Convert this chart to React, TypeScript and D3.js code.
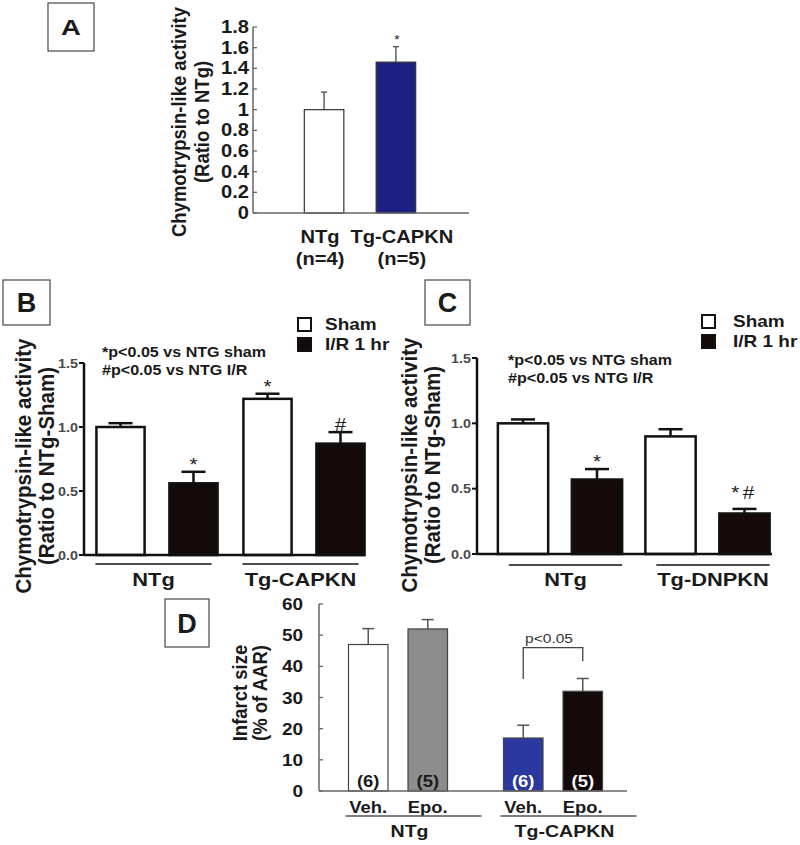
import React from "react";
import * as d3 from "d3";

// ---------- DATA ----------
// Panel A
const aCategories = ["NTg", "Tg-CAPKN"];
const aCounts = ["(n=4)", "(n=5)"];
const aValues = [1.0, 1.46];
const aErrors = [0.17, 0.15];
const aMarks = ["", "*"];
const aTicks = [0, 0.2, 0.4, 0.6, 0.8, 1.0, 1.2, 1.4, 1.6, 1.8];
const aTickLabels = ["0", "0.2", "0.4", "0.6", "0.8", "1", "1.2", "1.4", "1.6", "1.8"];
const aYLabel = ["Chymotrypsin-like activity", "(Ratio to NTg)"];

// Panels B & C shared
const seriesNames = ["Sham", "I/R 1 hr"];
const bcTicks = [0, 0.5, 1.0, 1.5];
const bcTickLabels = ["0.0", "0.5", "1.0", "1.5"];
const bcYLabel = ["Chymotrypsin-like activity", "(Ratio to NTg-Sham)"];
const bcNotes = ["*p<0.05 vs NTG sham", "#p<0.05 vs NTG I/R"];

// Panel B
const bGroups = ["NTg", "Tg-CAPKN"];
const bSham = [1.0, 1.22];
const bShamErr = [0.03, 0.04];
const bIR = [0.56, 0.87];
const bIRErr = [0.09, 0.09];
const bShamMarks = ["", "*"];
const bIRMarks = ["*", "#"];

// Panel C
const cGroups = ["NTg", "Tg-DNPKN"];
const cSham = [1.0, 0.9];
const cShamErr = [0.03, 0.055];
const cIR = [0.57, 0.31];
const cIRErr = [0.08, 0.035];
const cShamMarks = ["", ""];
const cIRMarks = ["*", "*#"];

// Panel D
const dGroups = ["NTg", "Tg-CAPKN"];
const dTreatments = ["Veh.", "Epo."];
const dVeh = [47, 17];
const dVehErr = [5.1, 4.1];
const dEpo = [52, 32];
const dEpoErr = [3, 4.1];
const dCountsVeh = ["(6)", "(6)"];
const dCountsEpo = ["(5)", "(5)"];
const dTicks = [0, 10, 20, 30, 40, 50, 60];
const dYLabel = ["Infarct size", "(% of AAR)"];
const dBracketText = "p<0.05";
const dBracketLevels = [35.9, 46, 41.6]; // left leg bottom, top, right leg bottom

// ---------- STYLE ----------
const FONT = "'Liberation Sans', Arial, Helvetica, sans-serif";
const SX = 1.15;
const INK = "#1a1a1a";
const BLACK_BAR = "#140a0a";
const A_COLORS = ["#ffffff", "#1c2082"];
const A_LABEL_SHIFT = [-4, 6];
const D_VEH_COLORS = ["#ffffff", "#2b38a0"];
const D_EPO_COLORS = ["#8c8c8c", BLACK_BAR];
const D_VEH_TEXT = [INK, "#ffffff"];
const D_EPO_TEXT = [INK, "#ffffff"];

type TP = {
  x: number; y: number; size: number; anchor?: string; weight?: string | number;
  fill?: string; sx?: number; children: React.ReactNode; ls?: number;
};
const T = ({ x, y, size, anchor = "middle", weight = "bold", fill = INK, sx = SX, children, ls }: TP) => (
  <text
    transform={`translate(${x},${y}) scale(${sx},1)`}
    textAnchor={anchor as any}
    fontFamily={FONT}
    fontSize={size}
    fontWeight={weight as any}
    fill={fill}
    letterSpacing={ls}
  >
    {children}
  </text>
);

const VT = ({ x, y, size, children }: { x: number; y: number; size: number; children: React.ReactNode }) => (
  <text
    transform={`translate(${x},${y}) rotate(-90) scale(1,1.12)`}
    textAnchor="middle"
    fontFamily={FONT}
    fontSize={size}
    fontWeight="bold"
    fill={INK}
  >
    {children}
  </text>
);

const Box = ({ x, y, w, h, label, size, sx = 1 }: any) => (
  <g>
    <rect x={x} y={y} width={w} height={h} fill="#fff" stroke="#555" strokeWidth={1.3} />
    <T x={x + w / 2} y={y + h / 2 + size * 0.36} size={size} sx={sx}>{label}</T>
  </g>
);

const ErrBar = ({ cx, y1, y2, cap, sw, color }: any) => (
  <g stroke={color} strokeWidth={sw} fill="none">
    <line x1={cx} x2={cx} y1={y1} y2={y2} />
    <line x1={cx - cap / 2} x2={cx + cap / 2} y1={y2} y2={y2} />
  </g>
);

// ---------- PANEL A ----------
function PanelA() {
  const y = d3.scaleLinear().domain([0, 1.8]).range([213, 27]);
  const x = d3.scaleBand<string>().domain(aCategories).range([272, 448]).padding(0.45);
  const ax = 253;
  return (
    <g>
      <Box x={48} y={3} w={46} h={48} label="A" size={22} sx={1.25} />
      <VT x={186} y={122} size={18.5}>{aYLabel[0]}</VT>
      <VT x={209} y={122} size={18.5}>{aYLabel[1]}</VT>
      {aCategories.map((c, i) => {
        const bx = x(c)!;
        const bw = x.bandwidth();
        const top = y(aValues[i]);
        const et = y(aValues[i] + aErrors[i]);
        return (
          <g key={c}>
            <ErrBar cx={bx + bw / 2} y1={top} y2={et} cap={6} sw={1.4} color="#555" />
            <rect x={bx} y={top} width={bw} height={y(0) - top} fill={A_COLORS[i]} stroke="#333" strokeWidth={1.2} />
            {aMarks[i] && <T x={bx + bw / 2 + 1} y={et - 3} size={12} weight="normal">{aMarks[i]}</T>}
            <T x={bx + bw / 2 + A_LABEL_SHIFT[i]} y={243} size={17.5}>{c}</T>
            <T x={bx + bw / 2 + A_LABEL_SHIFT[i]} y={265} size={17.5}>{aCounts[i]}</T>
          </g>
        );
      })}
      <line x1={ax} x2={ax} y1={y(0)} y2={y(1.8)} stroke="#666" strokeWidth={1.5} />
      <line x1={ax} x2={469} y1={y(0)} y2={y(0)} stroke="#666" strokeWidth={1.5} />
      {aTicks.map((t, i) => (
        <g key={t}>
          <line x1={ax} x2={ax + 4} y1={y(t)} y2={y(t)} stroke="#666" strokeWidth={1.3} />
          <T x={249} y={y(t) + 6} size={17.5} anchor="end">{aTickLabels[i]}</T>
        </g>
      ))}
    </g>
  );
}

// ---------- PANELS B & C ----------
function GroupedPanel(p: any) {
  const y = d3.scaleLinear().domain([0, 1.5]).range([p.y0, p.y15]);
  const x0 = d3.scaleBand<string>().domain(p.groups).range(p.x0range).padding(0);
  const x1 = d3.scaleBand<string>().domain(seriesNames).range([0, x0.bandwidth()])
    .paddingInner(p.pin).paddingOuter(p.pout);
  const series = [
    { name: seriesNames[0], vals: p.sham, errs: p.shamErr, marks: p.shamMarks, fill: "#ffffff" },
    { name: seriesNames[1], vals: p.ir, errs: p.irErr, marks: p.irMarks, fill: BLACK_BAR },
  ];
  const bw = x1.bandwidth();
  return (
    <g>
      <Box x={p.box[0]} y={p.box[1]} w={p.box[2]} h={p.box[3]} label={p.letter} size={27} />
      <VT x={p.titleX[0]} y={p.titleY} size={20.5}>{bcYLabel[0]}</VT>
      <VT x={p.titleX[1]} y={p.titleY} size={20.5}>{bcYLabel[1]}</VT>
      <T x={p.noteX} y={p.noteY[0]} size={14} anchor="start">{bcNotes[0]}</T>
      <T x={p.noteX} y={p.noteY[1]} size={14} anchor="start">{bcNotes[1]}</T>
      {seriesNames.map((s, i) => (
        <g key={s}>
          <rect x={p.legX} y={p.legY[i]} width={13} height={13} fill={series[i].fill} stroke="#111" strokeWidth={2} />
          <T x={p.legX + p.legTextDx} y={p.legY[i] + 12} size={16.5} anchor="start">{s}</T>
        </g>
      ))}
      {p.groups.map((g: string, gi: number) => {
        const gx = x0(g)!;
        const first = gx + x1(seriesNames[0])!;
        const last = gx + x1(seriesNames[1])! + bw;
        return (
          <g key={g}>
            {series.map((s) => {
              const bx = gx + x1(s.name)!;
              const top = y(s.vals[gi]);
              const et = y(s.vals[gi] + s.errs[gi]);
              return (
                <g key={s.name}>
                  <ErrBar cx={bx + bw / 2} y1={top} y2={et} cap={24} sw={2.5} color="#111" />
                  <rect x={bx} y={top} width={bw} height={y(0) - top} fill={s.fill} stroke="#111" strokeWidth={2.5} />
                  {s.marks[gi] && (
                    <T x={bx + bw / 2} y={et - (s.marks[gi].length > 1 ? 10 : 1)} size={18} weight="normal" ls={s.marks[gi].length > 1 ? 3 : 0}>
                      {s.marks[gi]}
                    </T>
                  )}
                </g>
              );
            })}
            <line x1={first + p.lineInset[0]} x2={last - p.lineInset[1]} y1={p.lineY} y2={p.lineY} stroke="#111" strokeWidth={1.5} />
            <T x={(first + p.lineInset[0] + last - p.lineInset[1]) / 2} y={586} size={19}>{g}</T>
          </g>
        );
      })}
      <line x1={p.ax} x2={p.ax} y1={y(0) + 1} y2={y(1.5)} stroke="#111" strokeWidth={2.5} />
      <line x1={p.ax} x2={p.axEnd} y1={y(0)} y2={y(0)} stroke="#111" strokeWidth={2.5} />
      {bcTicks.map((t, i) => (
        <g key={t}>
          <line x1={p.ax - 5} x2={p.ax} y1={y(t)} y2={y(t)} stroke="#111" strokeWidth={2} />
          <T x={p.ax - 6} y={y(t) + 4.5} size={12.5} anchor="end" fill="#4a4a4a">{bcTickLabels[i]}</T>
        </g>
      ))}
    </g>
  );
}

// ---------- PANEL D ----------
function PanelD() {
  const y = d3.scaleLinear().domain([0, 60]).range([791, 604]);
  const x0 = d3.scaleBand<string>().domain(dGroups).range([320.5, 630.5]).padding(0);
  const x1 = d3.scaleBand<string>().domain(dTreatments).range([0, x0.bandwidth()])
    .paddingInner(0.336).paddingOuter(0.47);
  const bw = x1.bandwidth();
  const ax = 319;
  const tv = [
    { vals: dVeh, errs: dVehErr, counts: dCountsVeh, fills: D_VEH_COLORS, texts: D_VEH_TEXT },
    { vals: dEpo, errs: dEpoErr, counts: dCountsEpo, fills: D_EPO_COLORS, texts: D_EPO_TEXT },
  ];
  const bl = x0(dGroups[1])! + x1(dTreatments[0])! + bw / 2;
  const br = x0(dGroups[1])! + x1(dTreatments[1])! + bw / 2;
  return (
    <g>
      <Box x={165} y={599} w={44} h={48} label="D" size={27} sx={1} />
      <VT x={247} y={693} size={18.5}>{dYLabel[0]}</VT>
      <VT x={267} y={693} size={18.5}>{dYLabel[1]}</VT>
      {dGroups.map((g, gi) => {
        const gx = x0(g)!;
        const first = gx + x1(dTreatments[0])!;
        const last = gx + x1(dTreatments[1])! + bw;
        const l1 = first - 3;
        const l2 = last + 34;
        return (
          <g key={g}>
            {dTreatments.map((t, ti) => {
              const s = tv[ti];
              const bx = gx + x1(t)!;
              const top = y(s.vals[gi]);
              const et = y(s.vals[gi] + s.errs[gi]);
              return (
                <g key={t}>
                  <ErrBar cx={bx + bw / 2} y1={top} y2={et} cap={12} sw={1.5} color="#555" />
                  <rect x={bx} y={top} width={bw} height={y(0) - top} fill={s.fills[gi]} stroke="#444" strokeWidth={1.2} />
                  <T x={bx + bw / 2} y={787} size={16} fill={s.texts[gi]}>{s.counts[gi]}</T>
                  <T x={bx + bw / 2} y={813} size={16}>{t}</T>
                </g>
              );
            })}
            <line x1={l1} x2={l2} y1={816} y2={816} stroke="#555" strokeWidth={1.3} />
            <T x={(l1 + l2) / 2 - 4} y={837} size={17}>{g}</T>
          </g>
        );
      })}
      <path
        d={`M${bl},${y(dBracketLevels[0])}V${y(dBracketLevels[1])}H${br}V${y(dBracketLevels[2])}`}
        fill="none" stroke="#444" strokeWidth={1.3}
      />
      <T x={(bl + br) / 2 - 4} y={643} size={13.5} weight="normal" fill="#333">{dBracketText}</T>
      <line x1={ax} x2={ax} y1={y(0)} y2={y(60)} stroke="#666" strokeWidth={1.5} />
      <line x1={ax} x2={627} y1={y(0)} y2={y(0)} stroke="#666" strokeWidth={1.5} />
      {dTicks.map((t) => (
        <g key={t}>
          <line x1={ax} x2={ax + 4} y1={y(t)} y2={y(t)} stroke="#666" strokeWidth={1.3} />
          <T x={303} y={y(t) + 6} size={16.5} anchor="end">{t}</T>
        </g>
      ))}
    </g>
  );
}

export default function App() {
  return (
    <svg width={800} height={845} style={{ position: "absolute", left: 0, top: 0, background: "#fff" }}>
      <rect width={800} height={845} fill="#fff" />
      <PanelA />
      <GroupedPanel
        letter="B" box={[3, 280, 47, 45]} groups={bGroups}
        sham={bSham} shamErr={bShamErr} ir={bIR} irErr={bIRErr}
        shamMarks={bShamMarks} irMarks={bIRMarks}
        y0={555} y15={363} x0range={[83.5, 377.5]} pin={0.34} pout={0.177}
        ax={84} axEnd={365} titleX={[31, 54]} titleY={466}
        noteX={102} noteY={[357, 375]} legX={298} legY={[318, 338]} legTextDx={27}
        lineY={564} lineInset={[-1, 6]}
      />
      <GroupedPanel
        letter="C" box={[425, 280, 45, 45]} groups={cGroups}
        sham={cSham} shamErr={cShamErr} ir={cIR} irErr={cIRErr}
        shamMarks={cShamMarks} irMarks={cIRMarks}
        y0={554} y15={358} x0range={[486.25, 781.25]} pin={0.32} pout={0.157}
        ax={477} axEnd={772} titleX={[417, 440]} titleY={465}
        noteX={508} noteY={[365, 383]} legX={702} legY={[315, 335]} legTextDx={31}
        lineY={565} lineInset={[11, 0]}
      />
      <PanelD />
    </svg>
  );
}
